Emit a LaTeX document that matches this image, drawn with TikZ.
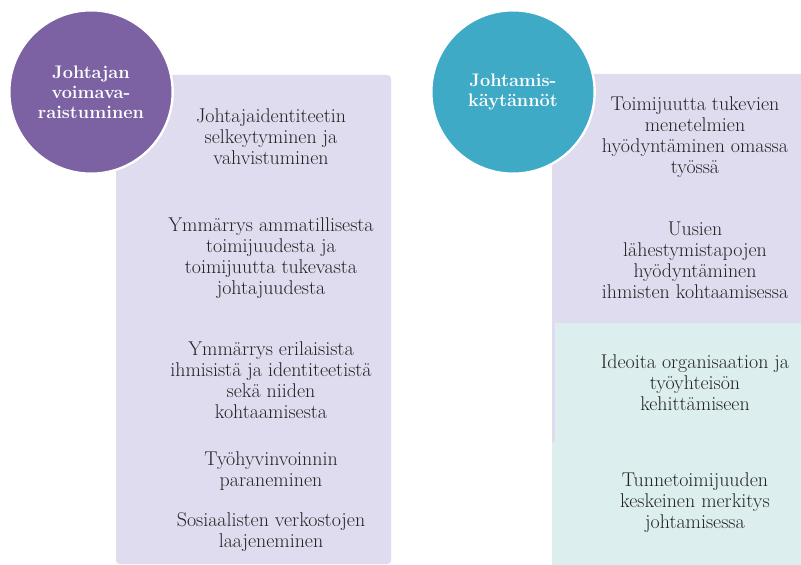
\documentclass[tikz,border=0pt]{standalone}
\usetikzlibrary{positioning}
\definecolor{themepurple}{RGB}{124,98,162}
\definecolor{themeteal}{RGB}{62,170,198}
\definecolor{themelavender}{RGB}{222,220,238}
\definecolor{themepale}{RGB}{220,238,238}
\definecolor{themetext}{RGB}{35,35,35}
\tikzset{
  panel/.style = {rounded corners=3},
  headline/.style = {
    circle, minimum size=4.9cm, inner sep=0pt, draw=white, line width=2pt,
    text=white, align=center, font=\fontsize{15.5}{17}\selectfont\bfseries
  },
  entry/.style = {
    align=center, text=themetext, inner sep=1pt,
    font=\fontsize{17}{17.9}\selectfont
  }
}
\begin{document}
\begin{tikzpicture}[x=0.03cm, y=-0.03cm]
      \useasboundingbox (0,0) rectangle (801,565);
      % left column background
      \fill[themelavender, panel] (116,75) rectangle (391,564);
      % right column: lavender top, pale teal bottom
      \fill[themelavender, panel] (552,74) rectangle (806,445);
      \fill[themepale] (555,323) rectangle (806,442);
      \fill[themepale] (552,442) rectangle (806,570);

      % headings
      \node[headline, fill=themepurple] (resources) at (91,92)
        {Johtajan\\voimava-\\raistuminen};
      \node[headline, fill=themeteal] (practices) at (513,92)
        {Johtamis-\\käytännöt};

      % left column entries
      \node[entry] (identity) at (271,137)
        {Johtajaidentiteetin\\selkeytyminen ja\\vahvistuminen};
      \node[entry] (agency) at (271,258)
        {Ymmärrys ammatillisesta\\toimijuudesta ja\\toimijuutta tukevasta\\johtajuudesta};
      \node[entry] (diversity) at (271,380)
        {Ymmärrys erilaisista\\ihmisistä ja identiteetistä\\sekä niiden\\kohtaamisesta};
      \node[entry] (wellbeing) at (271,471)
        {Työhyvinvoinnin\\paraneminen};
      \node[entry] (networks) at (271,532)
        {Sosiaalisten verkostojen\\laajeneminen};

      % right column entries
      \node[entry] (methods) at (695,137)
        {Toimijuutta tukevien\\menetelmien\\hyödyntäminen omassa\\työssä};
      \node[entry] (approaches) at (695,260)
        {Uusien\\lähestymistapojen\\hyödyntäminen\\ihmisten kohtaamisessa};
      \node[entry] (ideas) at (695,383)
        {Ideoita organisaation ja\\työyhteisön\\kehittämiseen};
      \node[entry] (emotions) at (695,503)
        {Tunnetoimijuuden\\keskeinen merkitys\\johtamisessa};
\end{tikzpicture}
\end{document}
